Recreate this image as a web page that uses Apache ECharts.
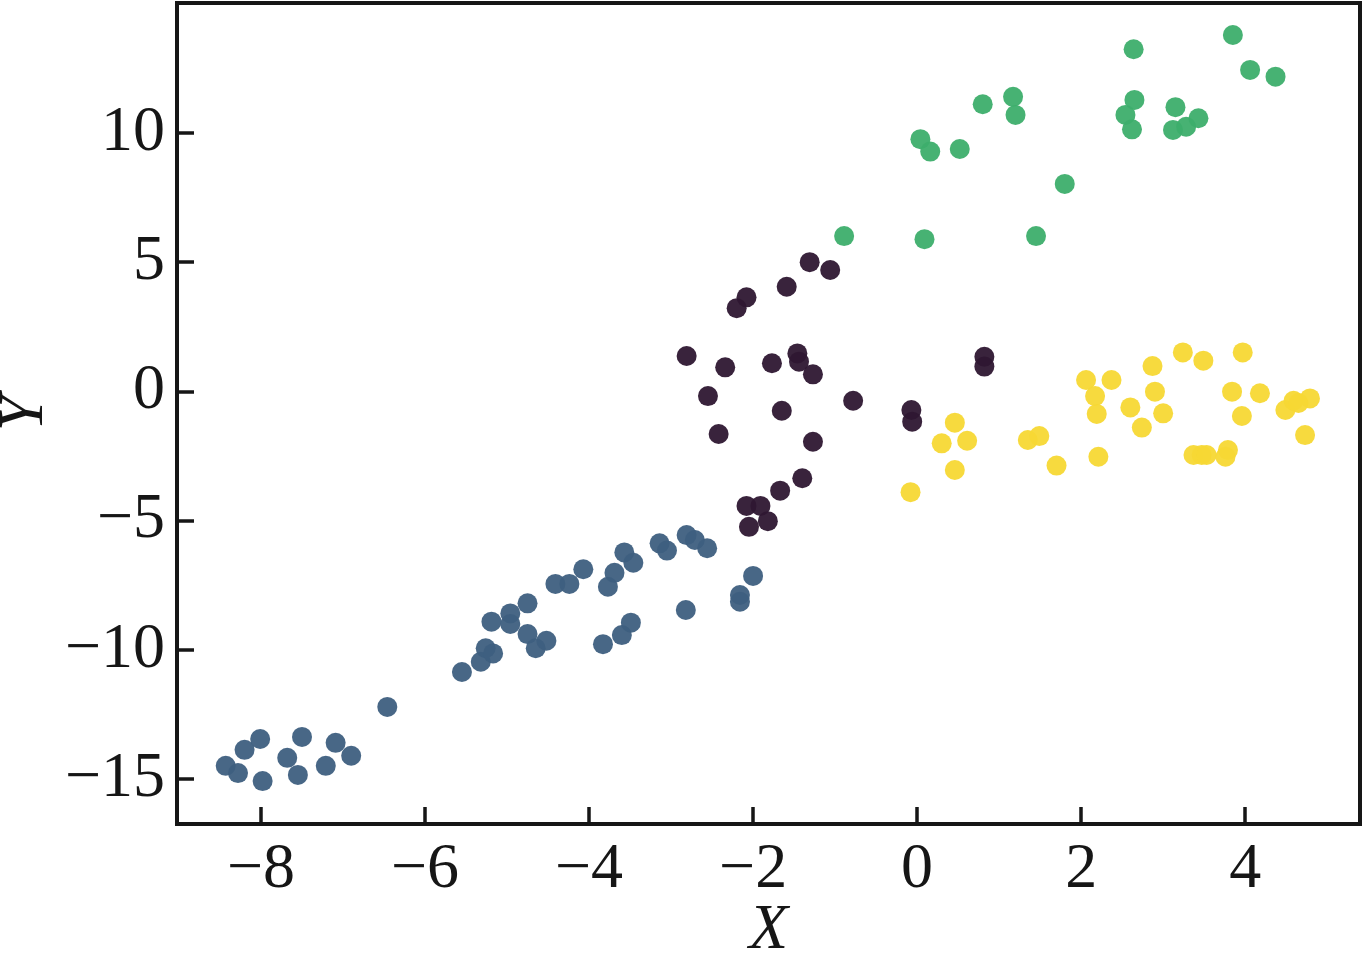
<!DOCTYPE html>
<html>
<head>
<meta charset="utf-8">
<script src="https://cdn.jsdelivr.net/npm/echarts@6/dist/echarts.min.js"></script>
<style>html,body{margin:0;padding:0;background:#fff;}#c{width:1363px;height:953px;}</style>
</head>
<body>
<div id="c"></div>
<script>
// Cluster data (X, Y)
const blueX = [-8.43,-8.28,-8.20,-8.01,-7.98,-7.68,-7.55,-7.50,-7.21,-7.09,-6.90,-6.46,-5.55,-5.32,-5.26,-5.17,-5.19,-4.96,-4.96,-4.75,-4.75,-4.65,-4.52,-4.41,-4.24,-4.07,-3.83,-3.60,-3.49,-3.77,-3.69,-3.57,-3.46,-3.14,-3.05,-2.82,-2.81,-2.71,-2.56,-2.00,-2.16,-2.16];
const blueY = [-14.49,-14.77,-13.87,-13.45,-15.08,-14.18,-14.84,-13.37,-14.49,-13.60,-14.10,-12.21,-10.86,-10.46,-9.94,-10.14,-8.91,-8.59,-9.00,-8.20,-9.39,-9.94,-9.65,-7.45,-7.45,-6.88,-9.78,-9.43,-8.95,-7.56,-7.02,-6.23,-6.63,-5.88,-6.16,-8.46,-5.56,-5.75,-6.07,-7.14,-7.88,-8.14];
const purpleX = [-1.31,-1.06,-1.59,-2.08,-2.20,-2.81,-2.34,-1.77,-1.46,-1.44,-1.27,-2.55,-0.78,-1.65,-2.42,-1.27,-1.40,-1.67,-2.08,-1.91,-1.82,-2.05,-0.07,-0.06,0.82,0.82];
const purpleY = [5.00,4.70,4.05,3.64,3.22,1.37,0.93,1.09,1.47,1.15,0.66,-0.18,-0.36,-0.75,-1.65,-1.95,-3.36,-3.84,-4.43,-4.43,-5.02,-5.24,-0.72,-1.17,1.34,0.96];
const yellowX = [0.46,0.30,0.61,0.46,-0.08,1.35,1.49,1.70,2.06,2.37,2.17,2.19,2.21,2.87,2.90,2.60,3.00,2.74,3.24,3.49,3.97,3.84,4.18,3.96,3.37,3.47,3.53,3.79,3.76,4.49,4.59,4.79,4.73,4.65];
const yellowY = [-1.21,-2.01,-1.91,-3.04,-3.90,-1.88,-1.73,-2.87,0.44,0.44,-0.18,-0.87,-2.53,0.98,-0.01,-0.62,-0.85,-1.40,1.51,1.19,1.51,-0.01,-0.07,-0.95,-2.46,-2.46,-2.46,-2.27,-2.53,-0.72,-0.36,-0.27,-1.69,-0.45];
const greenX = [-0.89,0.09,1.45,1.80,0.04,0.16,0.52,0.80,1.17,1.20,2.64,3.85,4.06,4.37,2.65,2.54,2.62,3.15,3.12,3.28,3.43];
const greenY = [6.01,5.89,6.01,8.03,9.76,9.28,9.38,11.11,11.40,10.70,13.24,13.79,12.44,12.18,11.28,10.70,10.14,11.00,10.12,10.24,10.57];

const xTicks = [-8,-6,-4,-2,0,2,4];
const yTicks = [-15,-10,-5,0,5,10];

function pairs(xs, ys){ return xs.map((x,i)=>[x, ys[i]]); }
const fmt = v => String(v).replace('-', '\u2212');
const FONT = '"Liberation Serif","Times New Roman",serif';
const INK = '#161616';

const chart = echarts.init(document.getElementById('c'), null, {renderer:'canvas'});
const mk = (name, xs, ys, color) => ({
  name, type:'scatter', data: pairs(xs, ys), symbolSize: 20,
  itemStyle:{color: color, opacity: 0.95}
});
chart.setOption({
  animation:false,
  backgroundColor:'#fff',
  grid:{left:177, right:3, top:3, bottom:129, containLabel:false, outerBoundsMode:'none',
        show:true, borderColor:INK, borderWidth:4, backgroundColor:'transparent'},
  xAxis:{
    type:'value', min:-9.024, max:5.40,
    name:'X', nameLocation:'middle', nameGap:75, nameMoveOverlap:false,
    nameTextStyle:{fontFamily:FONT, fontStyle:'italic', fontSize:64, color:INK},
    axisLine:{show:false, onZero:false},
    splitLine:{show:false},
    axisTick:{show:true, inside:true, length:17, lineStyle:{color:INK, width:3.5}, customValues:xTicks},
    axisLabel:{show:true, margin:14, fontFamily:FONT, fontSize:64, color:INK, formatter:fmt, customValues:xTicks}
  },
  yAxis:{
    type:'value', min:-16.74, max:15.03,
    name:'Y', nameLocation:'middle', nameGap:120, nameRotate:90, nameMoveOverlap:false,
    nameTextStyle:{fontFamily:FONT, fontStyle:'italic', fontSize:64, color:INK},
    axisLine:{show:false, onZero:false},
    splitLine:{show:false},
    axisTick:{show:true, inside:true, length:17, lineStyle:{color:INK, width:3.5}, customValues:yTicks},
    axisLabel:{show:true, margin:12, fontFamily:FONT, fontSize:64, color:INK, formatter:fmt, customValues:yTicks}
  },
  series:[
    mk('blue', blueX, blueY, '#3e5f80'),
    mk('purple', purpleX, purpleY, '#2e1732'),
    mk('yellow', yellowX, yellowY, '#f7d834'),
    mk('green', greenX, greenY, '#3dae6b')
  ]
});
</script>
</body>
</html>
